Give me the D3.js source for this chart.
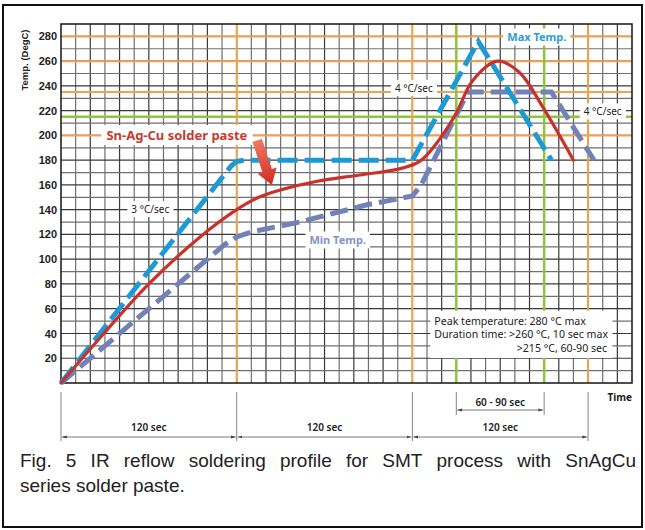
<!DOCTYPE html>
<html>
<head>
<meta charset="utf-8">
<script src="https://cdn.jsdelivr.net/npm/d3@7"></script>
<style>
  body { margin: 0; background: #fff; }
  svg { display: block; }
</style>
</head>
<body>
<svg id="chart" width="645" height="530"></svg>
<script>
// IR reflow soldering profile

const yTicks = [20, 40, 60, 80, 100, 120, 140, 160, 180, 200, 220, 240, 260, 280];

// Max Temp. (blue dashed)
const maxTime = [0, 116, 120, 125, 240, 285, 335];
const maxTemp = [0, 175, 179, 180, 180, 276, 180];

// Sn-Ag-Cu solder paste (red)
const pasteTime = [0, 27, 60, 95, 120, 135, 150, 175, 204, 231, 245, 258, 270, 281, 298, 313, 329, 350];
const pasteTemp = [0, 37, 80, 118, 140, 150, 156, 163, 168, 173, 179, 196, 218, 244, 260, 251, 223, 180];

// Min Temp. (slate dashed)
const minTime = [0, 112, 120, 130, 163, 209, 240, 246, 278, 335, 364];
const minTemp = [0, 112, 118, 122, 130, 144, 151, 160, 235, 235, 180];

// reference lines
const orangeTemps = [280, 260, 235, 200];
const greenTemps = [215];
const orangeTimes = [120, 240, 360];
const greenTimes = [270, 330];

// dimension spans under the axis
const spanStarts = [0, 120, 240];
const spanEnds = [120, 240, 360];
const spanLabels = ["120 sec", "120 sec", "120 sec"];
const peakSpan = [270, 330];

const infoLines = ["Peak temperature: 280 °C max", "Duration time: >260 °C, 10 sec max", ">215 °C, 60-90 sec"];
const captionLine1 = "Fig. 5 IR reflow soldering profile for SMT process with SnAgCu";
const captionLine2 = "series solder paste.";

const svg = d3.select("#chart");
const [pLeft, pRight, pTop, pBottom] = [61, 632, 24, 383];

const x = d3.scaleLinear().domain([0, 390]).range([pLeft, pRight]);
const y = d3.scaleLinear().domain([0, 290]).range([pBottom, pTop]);

const [orange, green, blue, red, slate] = ["#f0a24e", "#8cc63f", "#1c9ad6", "#c8322b", "#7282b8"];

// outer frame
svg.append("rect").attr("x", 3).attr("y", 5).attr("width", 639).attr("height", 522)
  .attr("fill", "none").attr("stroke", "#111").attr("stroke-width", 2);

// grid
const grid = svg.append("g");
grid.selectAll("line.v").data(d3.range(10, 390, 10)).enter().append("line")
  .attr("x1", d => x(d)).attr("x2", d => x(d)).attr("y1", pTop).attr("y2", pBottom)
  .attr("stroke", (d, i) => i % 2 ? "#3a3a3a" : "#707070").attr("stroke-width", 1.2);
grid.selectAll("line.h").data(d3.range(10, 290, 10)).enter().append("line")
  .attr("x1", pLeft).attr("x2", pRight).attr("y1", d => y(d)).attr("y2", d => y(d))
  .attr("stroke", (d, i) => i % 2 ? "#3a3a3a" : "#707070").attr("stroke-width", 1.2);

// coloured reference lines
grid.selectAll("line.oh").data(orangeTemps).enter().append("line")
  .attr("x1", pLeft).attr("x2", pRight).attr("y1", d => y(d)).attr("y2", d => y(d))
  .attr("stroke", orange).attr("stroke-width", 2);
grid.selectAll("line.gh").data(greenTemps).enter().append("line")
  .attr("x1", pLeft).attr("x2", pRight).attr("y1", d => y(d)).attr("y2", d => y(d))
  .attr("stroke", green).attr("stroke-width", 2.5);
grid.selectAll("line.ov").data(orangeTimes).enter().append("line")
  .attr("x1", d => x(d)).attr("x2", d => x(d)).attr("y1", pTop).attr("y2", pBottom)
  .attr("stroke", orange).attr("stroke-width", 2);
grid.selectAll("line.gv").data(greenTimes).enter().append("line")
  .attr("x1", d => x(d)).attr("x2", d => x(d)).attr("y1", pTop).attr("y2", pBottom)
  .attr("stroke", green).attr("stroke-width", 2.5);

// plot border
svg.append("rect").attr("x", pLeft).attr("y", pTop).attr("width", pRight - pLeft).attr("height", pBottom - pTop)
  .attr("fill", "none").attr("stroke", "#222").attr("stroke-width", 1.6);

// y axis labels
const yAxis = d3.axisLeft(y).tickValues(yTicks).tickSize(0).tickPadding(4);
const yG = svg.append("g").attr("transform", `translate(${pLeft},0)`).call(yAxis);
yG.select(".domain").remove();
yG.selectAll("text").attr("font-family", "Liberation Sans, Arial, sans-serif")
  .attr("font-weight", "bold").attr("font-size", 11).attr("fill", "#222");

svg.append("text").attr("transform", "translate(28,60) rotate(-90)")
  .attr("text-anchor", "middle").attr("font-family", "Liberation Sans, Arial, sans-serif")
  .attr("font-weight", "bold").attr("font-size", 9.5).attr("fill", "#222").text("Temp. (DegC)");

// labels with white background
const labelFont = "Noto Sans, Open Sans, sans-serif";
function boxLabel(txt, cx, cy, opts) {
  const g = svg.append("g");
  const t = g.append("text").attr("x", cx).attr("y", cy).attr("dy", "0.35em")
    .attr("text-anchor", opts.anchor || "middle").attr("font-family", labelFont)
    .attr("font-size", opts.size || 10).attr("font-weight", opts.weight || "normal")
    .attr("fill", opts.color || "#222").text(txt);
  const b = t.node().getBBox();
  g.insert("rect", "text").attr("x", b.x - (opts.padX || 4)).attr("y", b.y - 1)
    .attr("width", b.width + 2 * (opts.padX || 4)).attr("height", b.height + 2).attr("fill", "#fff");
  return g;
}

// curves
const line = d3.line().x(d => x(d[0])).y(d => y(d[1]));
svg.append("path").datum(d3.zip(minTime, minTemp)).attr("d", line)
  .attr("fill", "none").attr("stroke", slate).attr("stroke-width", 5)
  .attr("stroke-dasharray", "18,7");
svg.append("path").datum(d3.zip(maxTime, maxTemp)).attr("d", line)
  .attr("fill", "none").attr("stroke", blue).attr("stroke-width", 5)
  .attr("stroke-dasharray", "20,7");
svg.append("path").datum(d3.zip(pasteTime, pasteTemp))
  .attr("d", d3.line().x(d => x(d[0])).y(d => y(d[1])).curve(d3.curveCatmullRom.alpha(0.5)))
  .attr("fill", "none").attr("stroke", red).attr("stroke-width", 3.2).attr("stroke-linecap", "round");

boxLabel("Sn-Ag-Cu solder paste", x(31), y(200), {anchor: "start", size: 13, weight: "bold", color: "#c83a30", padX: 5});
boxLabel("3 °C/sec", x(61), y(140), {size: 10});
boxLabel("Min Temp.", x(189), y(115), {size: 11, weight: "bold", color: "#8494c4"});
boxLabel("4 °C/sec", x(241), y(238), {size: 10});
boxLabel("4 °C/sec", x(370), y(219), {size: 10});
boxLabel("Max Temp.", x(325), y(279), {size: 11, weight: "bold", color: "#2aa0d8"});

// red arrow pointing at the paste curve
const defs = svg.append("defs");
const grad = defs.append("linearGradient").attr("id", "arrowGrad").attr("x1", 0).attr("x2", 1).attr("y1", 0).attr("y2", 0);
grad.append("stop").attr("offset", "0%").attr("stop-color", "#f07a60");
grad.append("stop").attr("offset", "100%").attr("stop-color", "#d22a20");
const [ax0, ay0, ax1, ay1] = [x(134), y(196), x(144), y(160)];
const len = Math.hypot(ax1 - ax0, ay1 - ay0);
const ang = Math.atan2(ay1 - ay0, ax1 - ax0) * 180 / Math.PI;
svg.append("path")
  .attr("d", `M0,-5 L${len - 15},-5 L${len - 15},-10 L${len},0 L${len - 15},10 L${len - 15},5 L0,5 Z`)
  .attr("transform", `translate(${ax0},${ay0}) rotate(${ang})`)
  .attr("fill", "url(#arrowGrad)");

// info box
const info = svg.append("g");
const infoRect = info.append("rect").attr("fill", "#fff");
const infoY = [50, 39, 28];
infoLines.forEach((s, i) => {
  info.append("text").attr("x", i < 2 ? x(255) : x(373)).attr("y", y(infoY[i])).attr("dy", "0.35em")
    .attr("text-anchor", i < 2 ? "start" : "end").attr("font-family", labelFont)
    .attr("font-size", 10.6).attr("fill", "#222").text(s);
});
const ib = info.node().getBBox();
infoRect.attr("x", ib.x - 4).attr("y", ib.y - 3).attr("width", ib.width + 8).attr("height", ib.height + 6);

// Time label
svg.append("text").attr("x", pRight).attr("y", 397).attr("dy", "0.35em").attr("text-anchor", "end")
  .attr("font-family", labelFont).attr("font-weight", "bold").attr("font-size", 10).attr("fill", "#222").text("Time");

// dimension lines below axis
const dimColor = "#666";
defs.append("marker").attr("id", "ah").attr("viewBox", "0 0 10 10").attr("refX", 10).attr("refY", 5)
  .attr("markerWidth", 6).attr("markerHeight", 6).attr("orient", "auto-start-reverse")
  .append("path").attr("d", "M0,2 L10,5 L0,8 Z").attr("fill", "#444");

const dims = svg.append("g");
dims.selectAll("line.tick").data([0, 120, 240, 360]).enter().append("line")
  .attr("x1", d => x(d)).attr("x2", d => x(d)).attr("y1", 392).attr("y2", 441)
  .attr("stroke", dimColor).attr("stroke-width", 0.8);
spanStarts.forEach((s, i) => {
  dims.append("line").attr("x1", x(s) + 1).attr("x2", x(spanEnds[i]) - 1).attr("y1", 437).attr("y2", 437)
    .attr("stroke", "#555").attr("stroke-width", 0.8)
    .attr("marker-start", "url(#ah)").attr("marker-end", "url(#ah)");
  dims.append("text").attr("x", (x(s) + x(spanEnds[i])) / 2).attr("y", 427).attr("dy", "0.35em")
    .attr("text-anchor", "middle").attr("font-family", labelFont).attr("font-size", 10)
    .attr("font-weight", 600).attr("fill", "#222").text(spanLabels[i]);
});
dims.selectAll("line.pk").data(peakSpan).enter().append("line")
  .attr("x1", d => x(d)).attr("x2", d => x(d)).attr("y1", 392).attr("y2", 415)
  .attr("stroke", dimColor).attr("stroke-width", 0.8);
dims.append("line").attr("x1", x(peakSpan[0]) + 1).attr("x2", x(peakSpan[1]) - 1).attr("y1", 410).attr("y2", 410)
  .attr("stroke", "#555").attr("stroke-width", 0.8)
  .attr("marker-start", "url(#ah)").attr("marker-end", "url(#ah)");
dims.append("text").attr("x", (x(peakSpan[0]) + x(peakSpan[1])) / 2).attr("y", 402).attr("dy", "0.35em")
  .attr("text-anchor", "middle").attr("font-family", labelFont).attr("font-size", 10)
  .attr("font-weight", 600).attr("fill", "#222").text("60 - 90 sec");

// caption, first line justified
const capFont = "Liberation Sans, Arial, sans-serif";
const capSize = 19;
const words = captionLine1.split(" ");
const cap = svg.append("g").attr("font-family", capFont).attr("font-size", capSize).attr("fill", "#222");
const wNodes = words.map(w => cap.append("text").attr("y", 467).text(w));
const widths = wNodes.map(n => n.node().getComputedTextLength());
const [cx0, cx1] = [20, 636];
const gap = (cx1 - cx0 - d3.sum(widths)) / (words.length - 1);
let cursor = cx0;
wNodes.forEach((n, i) => { n.attr("x", cursor); cursor += widths[i] + gap; });
cap.append("text").attr("x", cx0).attr("y", 492).text(captionLine2);
</script>
</body>
</html>
